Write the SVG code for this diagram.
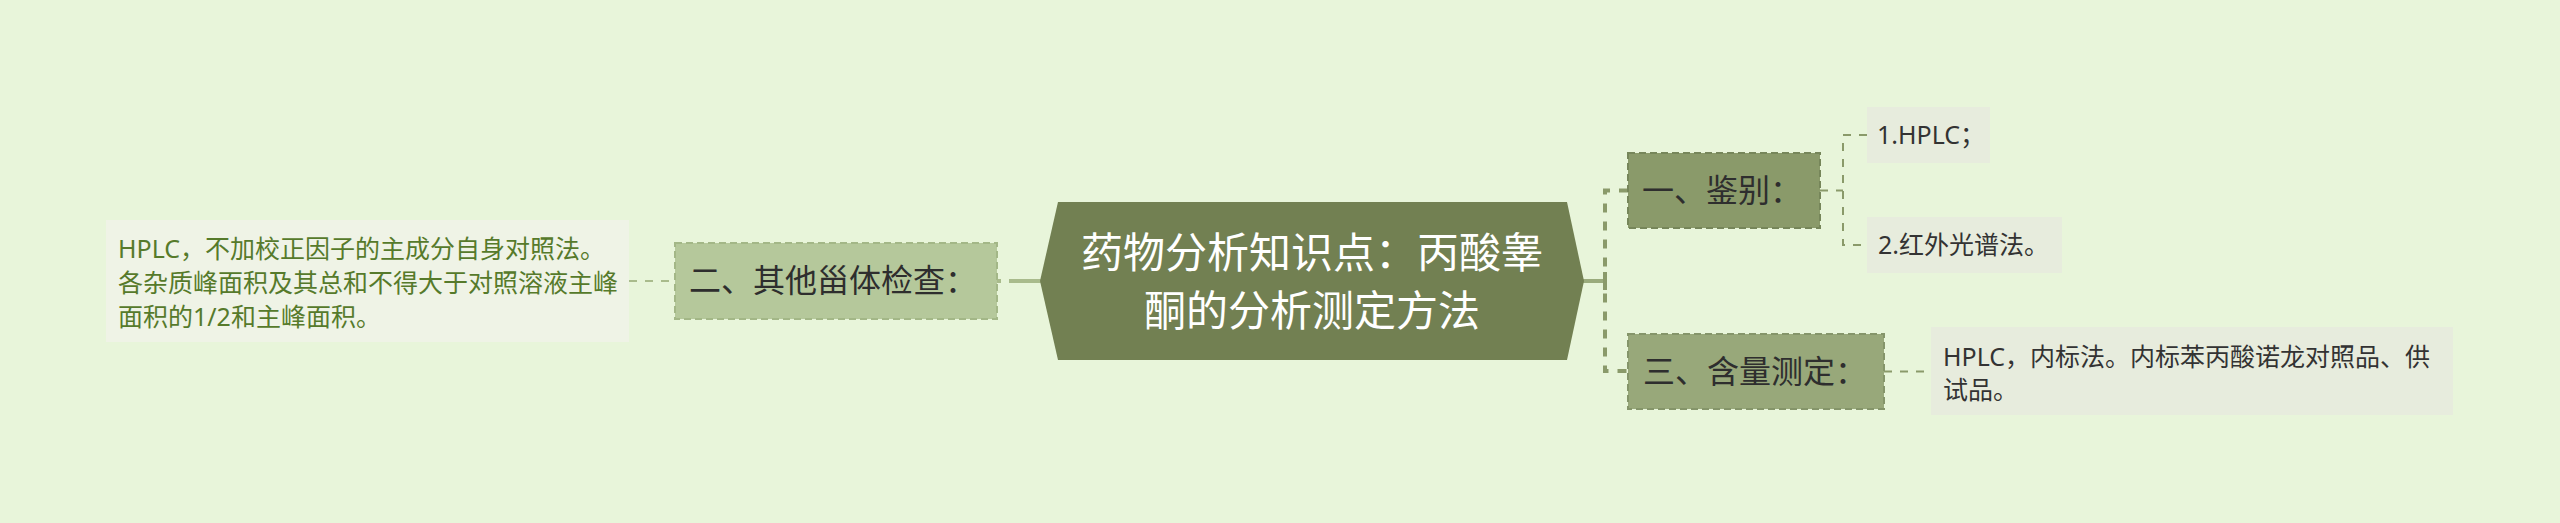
<svg xmlns="http://www.w3.org/2000/svg" width="2560" height="523" viewBox="0 0 2560 523">
<style>
text{font-family:"Noto Sans","Noto Sans CJK SC",sans-serif}
.root-t{font-size:42px;fill:#ffffff;text-anchor:middle}
.br-t{font-size:32px;fill:#2e2e2e}
.lf-t{font-size:25px;fill:#333333}
.lf-g{font-size:25px;fill:#567a2b}
.brbox{stroke-width:2;stroke-dasharray:7 4}
.main{stroke-width:4;fill:none}
.sub{stroke:#8a9a6a;stroke-width:4;stroke-dasharray:9 9;fill:none}
.sub2{stroke:#8a9a6a;stroke-width:2;stroke-dasharray:8 8;fill:none}
.sub3{stroke:#a9bb8c;stroke-width:2;stroke-dasharray:8 8;fill:none}
</style>
<rect x="0" y="0" width="2560" height="523" fill="#e8f5da"/>
<g id="connectors">
<line class="main" x1="997" y1="281" x2="1001" y2="281" stroke="#a9bb8c"/>
<line class="main" x1="1009" y1="281" x2="1041" y2="281" stroke="#a9bb8c"/>
<line class="sub3" x1="629" y1="281" x2="675" y2="281"/>
<line class="main" x1="1583" y1="281" x2="1605" y2="281" stroke="#9aab7c"/>
<line x1="1605" y1="272" x2="1605" y2="290" stroke="#8a9a6a" stroke-width="4"/>
<path class="sub" d="M1628 190.5 H1605 V371 H1628"/>
<path class="sub2" d="M1820 190.5 H1843"/>
<path class="sub2" d="M1867 135 H1843 V245 H1867"/>
<path class="sub2" d="M1884 371.5 H1931"/>
</g>
<g id="root">
<polygon points="1058,202 1567,202 1584,281 1567,360 1058,360 1040,281" fill="#728052"/>
<text class="root-t" x="1312" y="268">药物分析知识点：丙酸睾</text>
<text class="root-t" x="1312" y="326">酮的分析测定方法</text>
</g>
<g id="branch-2">
<rect class="brbox" x="675" y="243" width="322" height="76" fill="#b5c89b" stroke="#a3b787"/>
<text class="br-t" x="689" y="292">二、其他甾体检查：</text>
</g>
<g id="leaf-2">
<rect x="106" y="220" width="523" height="122" fill="#eff3e6"/>
<text class="lf-g" x="118" y="258">HPLC，不加校正因子的主成分自身对照法。</text>
<text class="lf-g" x="118" y="292">各杂质峰面积及其总和不得大于对照溶液主峰</text>
<text class="lf-g" x="118" y="326">面积的1/2和主峰面积。</text>
</g>
<g id="branch-1">
<rect class="brbox" x="1628" y="153" width="192" height="75" fill="#8a9a6a" stroke="#76865a"/>
<text class="br-t" x="1642" y="202">一、鉴别：</text>
</g>
<g id="leaf-1a">
<rect x="1867" y="107" width="123" height="56" fill="#e7ecdd"/>
<text class="lf-t" x="1877" y="144">1.HPLC；</text>
</g>
<g id="leaf-1b">
<rect x="1867" y="217" width="195" height="56" fill="#e7ecdd"/>
<text class="lf-t" x="1878" y="254">2.红外光谱法。</text>
</g>
<g id="branch-3">
<rect class="brbox" x="1628" y="334" width="256" height="75" fill="#98a87a" stroke="#85956a"/>
<text class="br-t" x="1643" y="383">三、含量测定：</text>
</g>
<g id="leaf-3">
<rect x="1931" y="327" width="522" height="88" fill="#e7ecdd"/>
<text class="lf-t" x="1943" y="366">HPLC，内标法。内标苯丙酸诺龙对照品、供</text>
<text class="lf-t" x="1943" y="399">试品。</text>
</g>
</svg>
